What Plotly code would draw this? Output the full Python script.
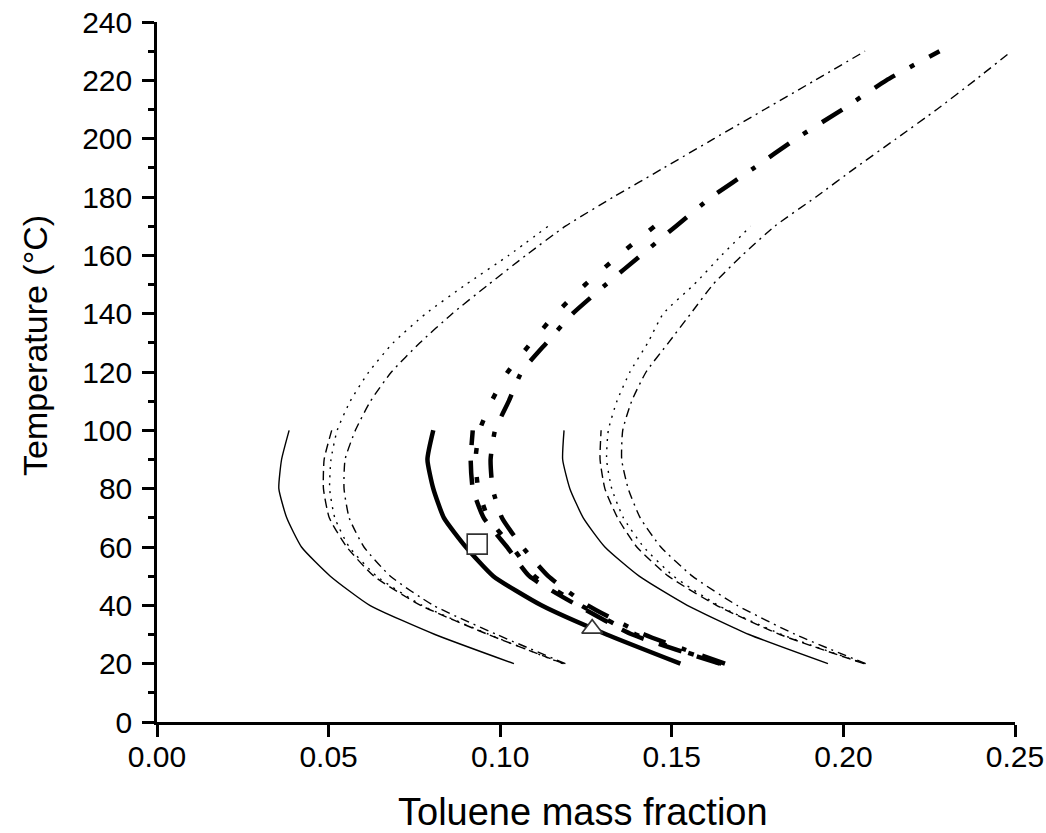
import plotly.graph_objects as go

# Temperature grids (°C) for the three curve lengths
T_short = [20, 30, 40, 50, 60, 70, 80, 90, 100]
T_mid = [20, 30, 40, 50, 60, 70, 80, 90, 100, 110, 120, 130, 140, 150, 160, 170]
T_long = [20, 30, 40, 50, 60, 70, 80, 90, 100, 110, 120, 130, 140, 150, 160,
          170, 180, 190, 200, 210, 220, 230]

# Left (thin) family - toluene mass fraction
left_solid = [0.1040, 0.0810, 0.0620, 0.0505, 0.0421, 0.0378, 0.0355, 0.0363, 0.0385]
left_dash = [0.1185, 0.0965, 0.0768, 0.0632, 0.0553, 0.0502, 0.0485, 0.0487, 0.0509]
left_dot = [0.1182, 0.0968, 0.0772, 0.0640, 0.0560, 0.0518, 0.0503, 0.0507, 0.0525,
            0.0563, 0.0617, 0.0688, 0.0783, 0.0900, 0.1025, 0.1140]
left_dashdot = [0.1190, 0.0990, 0.0805, 0.0680, 0.0603, 0.0560, 0.0545, 0.0548, 0.0578,
                0.0622, 0.0683, 0.0766, 0.0860, 0.0966, 0.1075, 0.1190, 0.1330, 0.1477,
                0.1623, 0.1770, 0.1917, 0.2063]

# Middle (thick) family
mid_solid = [0.1525, 0.1310, 0.1120, 0.0980, 0.0900, 0.0836, 0.0805, 0.0788, 0.0805]
mid_dash = [0.1640, 0.1385, 0.1225, 0.1085, 0.1020, 0.0952, 0.0920, 0.0914, 0.0920]
mid_dot = [0.1645, 0.1395, 0.1235, 0.1100, 0.1035, 0.0965, 0.0936, 0.0928, 0.0940,
           0.0975, 0.1022, 0.1090, 0.1162, 0.1248, 0.1346, 0.1450]
mid_dashdot = [0.1655, 0.1420, 0.1255, 0.1140, 0.1065, 0.1005, 0.0978, 0.0972, 0.0985,
               0.1025, 0.1062, 0.1135, 0.1211, 0.1308, 0.1410, 0.1512, 0.1616, 0.1740,
               0.1862, 0.1997, 0.2125, 0.2280]

# Right (thin) family
right_solid = [0.1955, 0.1725, 0.1545, 0.1405, 0.1305, 0.1242, 0.1203, 0.1182, 0.1186]
right_dash = [0.2060, 0.1815, 0.1630, 0.1490, 0.1398, 0.1342, 0.1305, 0.1291, 0.1294]
right_dot = [0.2062, 0.1820, 0.1635, 0.1505, 0.1418, 0.1359, 0.1325, 0.1310, 0.1315,
             0.1340, 0.1378, 0.1430, 0.1475, 0.1565, 0.1645, 0.1730]
right_dashdot = [0.2065, 0.1860, 0.1690, 0.1560, 0.1468, 0.1408, 0.1373, 0.1354, 0.1357,
                 0.1383, 0.1425, 0.1490, 0.1555, 0.1620, 0.1705, 0.1800, 0.1920, 0.2035,
                 0.2154, 0.2272, 0.2383, 0.2490]

# Experimental points
square_x, square_T = [0.0933], [61]
triangle_x, triangle_T = [0.1268], [32]

x_ticks = [0.00, 0.05, 0.10, 0.15, 0.20, 0.25]
x_tick_labels = ["0.00", "0.05", "0.10", "0.15", "0.20", "0.25"]
y_ticks = list(range(0, 241, 20))

THIN, THICK = 1.4, 4.5
thin_styles = {"solid": "solid", "dash": "9px,5px", "dot": "2px,6px",
               "dashdot": "9px,5px,2px,5px"}
thick_styles = {"solid": "solid", "dash": "24px,16px", "dot": "6px,23px",
                "dashdot": "24px,17px,5px,17px"}

curves = [
    (left_solid, T_short, THIN, thin_styles["solid"]),
    (left_dash, T_short, THIN, thin_styles["dash"]),
    (left_dot, T_mid, THIN, thin_styles["dot"]),
    (left_dashdot, T_long, THIN, thin_styles["dashdot"]),
    (right_solid, T_short, THIN, thin_styles["solid"]),
    (right_dash, T_short, THIN, thin_styles["dash"]),
    (right_dot, T_mid, THIN, thin_styles["dot"]),
    (right_dashdot, T_long, THIN, thin_styles["dashdot"]),
    (mid_solid, T_short, THICK, thick_styles["solid"]),
    (mid_dash, T_short, THICK, thick_styles["dash"]),
    (mid_dot, T_mid, THICK, thick_styles["dot"]),
    (mid_dashdot, T_long, THICK, thick_styles["dashdot"]),
]

fig = go.Figure()
for xs, ts, w, dash in curves:
    fig.add_trace(go.Scatter(x=xs, y=ts, mode="lines",
                             line=dict(color="black", width=w, dash=dash,
                                       shape="spline", smoothing=0.5),
                             showlegend=False, hoverinfo="skip"))

fig.add_trace(go.Scatter(x=square_x, y=square_T, mode="markers",
                         marker=dict(symbol="square", size=20, color="white",
                                     line=dict(color="#333333", width=1.6)),
                         showlegend=False))
fig.add_trace(go.Scatter(x=triangle_x, y=triangle_T, mode="markers",
                         marker=dict(symbol="triangle-up", size=18, color="white",
                                     line=dict(color="#333333", width=1.6)),
                         showlegend=False))

font = "Liberation Sans, Arial, sans-serif"
axis_common = dict(showgrid=False, zeroline=False, showline=True, linecolor="black",
                   linewidth=2.5, ticks="outside", ticklen=12, tickwidth=2.5,
                   tickcolor="black", tickfont=dict(size=30), automargin=False)
fig.update_layout(
    width=1046, height=833,
    margin=dict(l=157, r=31, t=22, b=111),
    paper_bgcolor="white", plot_bgcolor="white",
    font=dict(family=font, color="black"),
    xaxis=dict(range=[0, 0.25], tickvals=x_ticks, ticktext=x_tick_labels,
               ticklabelstandoff=-6, **axis_common),
    yaxis=dict(range=[0, 240], tickvals=y_ticks, ticklabelstandoff=4,
               minor=dict(dtick=10, ticks="outside", ticklen=6, tickwidth=2.5,
                          tickcolor="black", showgrid=False),
               **axis_common),
    annotations=[
        dict(text="Toluene mass fraction", xref="paper", yref="paper",
             x=0.497, y=-0.1286, xanchor="center", yanchor="middle",
             showarrow=False, font=dict(size=38)),
        dict(text="Temperature (°C)", xref="paper", yref="paper",
             x=-0.1422, y=0.5386, xanchor="center", yanchor="middle",
             textangle=-90, showarrow=False, font=dict(size=34)),
    ],
)

fig.write_html("out.html")
